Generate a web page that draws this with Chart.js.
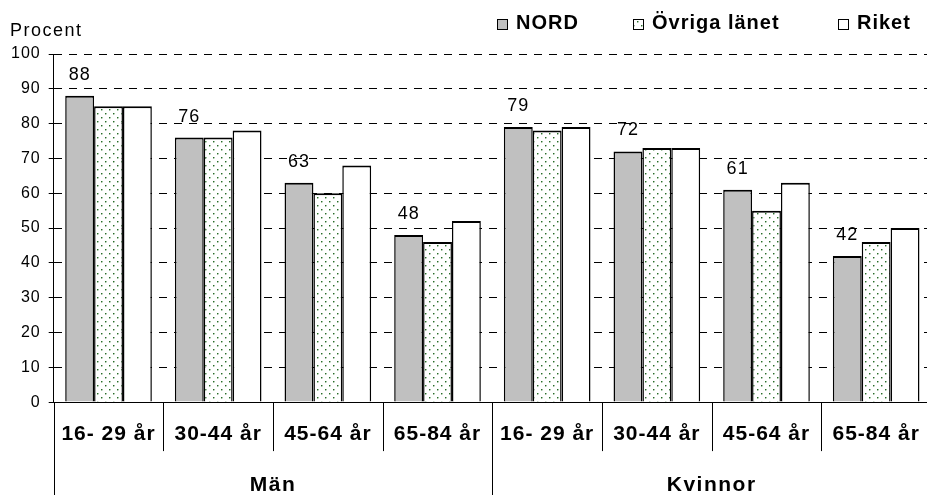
<!DOCTYPE html>
<html>
<head>
<meta charset="utf-8">
<script src="https://cdn.jsdelivr.net/npm/chart.js@4.4.0/dist/chart.umd.min.js"></script>
<style>
  html, body { margin: 0; padding: 0; background: #fff; overflow: hidden; }
  /* plot runs a little past the right edge of the picture, as in the original */
  #wrap { width: 931px; height: 495px; }
</style>
</head>
<body>
<div id="wrap"><canvas id="chart"></canvas></div>
<script>
const ageGroups = ['16- 29 år', '30-44 år', '45-64 år', '65-84 år', '16- 29 år', '30-44 år', '45-64 år', '65-84 år'];
const sexGroups = ['Män', 'Kvinnor'];
const seriesNames = ['NORD', 'Övriga länet', 'Riket'];
const nord = [88, 76, 63, 48, 79, 72, 61, 42];
const ovrigaLanet = [85, 76, 60, 46, 78, 73, 55, 46];
const riket = [85, 78, 68, 52, 79, 73, 63, 50];
const yTickLabels = [0, 10, 20, 30, 40, 50, 60, 70, 80, 90, 100];
const yTitle = 'Procent';

const FONT = "'Liberation Sans', Arial, sans-serif";
Chart.defaults.font.family = FONT;
Chart.defaults.color = '#000';

// dotted fill used for "Övriga länet"
function dotPattern() {
  const c = document.createElement('canvas');
  c.width = 8; c.height = 8;
  const g = c.getContext('2d');
  g.fillStyle = '#fff';
  g.fillRect(0, 0, 8, 8);
  [[1, 1], [5, 5]].forEach(([px, py]) => {
    g.fillStyle = '#dce8dc';
    g.fillRect(px + 1, py + 1, 1, 1);
    g.fillStyle = '#9ebf9e';
    g.fillRect(px + 1, py, 1, 1);
    g.fillRect(px, py + 1, 1, 1);
    g.fillStyle = '#2a6a2a';
    g.fillRect(px, py, 1, 1);
  });
  return g.createPattern(c, 'repeat');
}

const fills = ['#c0c0c0', dotPattern(), '#ffffff'];
const barBorder = { top: 2, left: 1.5, right: 1.5, bottom: 0 };

// old-office style text is a bit wider
const spacingPlugin = {
  id: 'spacing',
  beforeLayout(chart) { chart.ctx.letterSpacing = '1px'; },
  beforeDraw(chart) { chart.ctx.letterSpacing = '1px'; }
};

const decorPlugin = {
  id: 'decor',
  afterDraw(chart) {
    const { ctx, scales: { x } } = chart;
    const step = x.getPixelForValue(1) - x.getPixelForValue(0);
    const edge = k => x.getPixelForValue(k) - step / 2;
    const per = ageGroups.length / sexGroups.length;

    ctx.save();
    ctx.letterSpacing = '1px';
    ctx.strokeStyle = '#000';
    ctx.lineWidth = 1;
    // category separators under the axis; group separators run to the bottom
    for (let k = 0; k <= ageGroups.length; k++) {
      const px = Math.round(edge(k)) + 0.5;
      ctx.beginPath();
      ctx.moveTo(px, x.top);
      ctx.lineTo(px, k % per === 0 ? chart.height : x.top + 49);
      ctx.stroke();
    }

    ctx.font = `bold 21px ${FONT}`;
    ctx.letterSpacing = '1.5px';
    ctx.fillStyle = '#000';
    ctx.textAlign = 'center';
    ctx.textBaseline = 'alphabetic';
    sexGroups.forEach((name, g) => {
      const mid = (edge(g * per) + edge((g + 1) * per)) / 2;
      ctx.fillText(name, mid, chart.height - 4);
    });

    // y title
    ctx.font = `18px ${FONT}`;
    ctx.textAlign = 'left';
    ctx.fillText(yTitle, 10, 36);
    ctx.letterSpacing = '1px';

    // legend
    const legendX = [497, 633, 838];
    ctx.font = `bold 20px ${FONT}`;
    seriesNames.forEach((name, i) => {
      ctx.fillStyle = fills[i];
      ctx.fillRect(legendX[i], 19, 10, 10);
      ctx.strokeStyle = '#000';
      ctx.strokeRect(legendX[i] + 0.5, 19.5, 10, 10);
      ctx.fillStyle = '#000';
      ctx.fillText(name, legendX[i] + 19, 29);
    });

    // value labels above NORD bars
    ctx.font = `18px ${FONT}`;
    ctx.textAlign = 'center';
    chart.getDatasetMeta(0).data.forEach((bar, i) => {
      ctx.fillText(String(nord[i]), bar.x, bar.y - 16);
    });
    ctx.restore();
  }
};

new Chart(document.getElementById('chart'), {
  type: 'bar',
  data: {
    labels: ageGroups,
    datasets: [nord, ovrigaLanet, riket].map((values, i) => ({
      label: seriesNames[i],
      data: values,
      backgroundColor: fills[i],
      borderColor: '#000',
      borderWidth: barBorder,
      borderSkipped: 'start',
      categoryPercentage: 0.79,
      barPercentage: 1.0
    }))
  },
  options: {
    responsive: true,
    maintainAspectRatio: false,
    animation: false,
    devicePixelRatio: 1,
    layout: { padding: { left: 3, top: 54, right: 0, bottom: 28 } },
    plugins: {
      legend: { display: false },
      tooltip: { enabled: false }
    },
    scales: {
      x: {
        offset: true,
        grid: { offset: true, drawOnChartArea: false, drawTicks: false },
        border: { display: true, color: '#000', width: 1 },
        ticks: {
          // tall line box pushes the labels down without widening the side padding
          font: { size: 21, weight: 'bold', lineHeight: 2.9 },
          color: '#000',
          padding: 2,
          maxRotation: 0,
          autoSkip: false
        }
      },
      y: {
        min: 0,
        max: 100,
        afterBuildTicks: scale => { scale.ticks = yTickLabels.map(v => ({ value: v })); },
        ticks: { font: { size: 16 }, color: '#000', padding: 8 },
        grid: {
          color: '#000',
          lineWidth: 1,
          drawTicks: true,
          tickLength: 5,
          tickColor: '#000'
        },
        border: { display: true, color: '#000', width: 1, dash: [8, 7] }
      }
    }
  },
  plugins: [spacingPlugin, decorPlugin]
});
</script>
</body>
</html>
